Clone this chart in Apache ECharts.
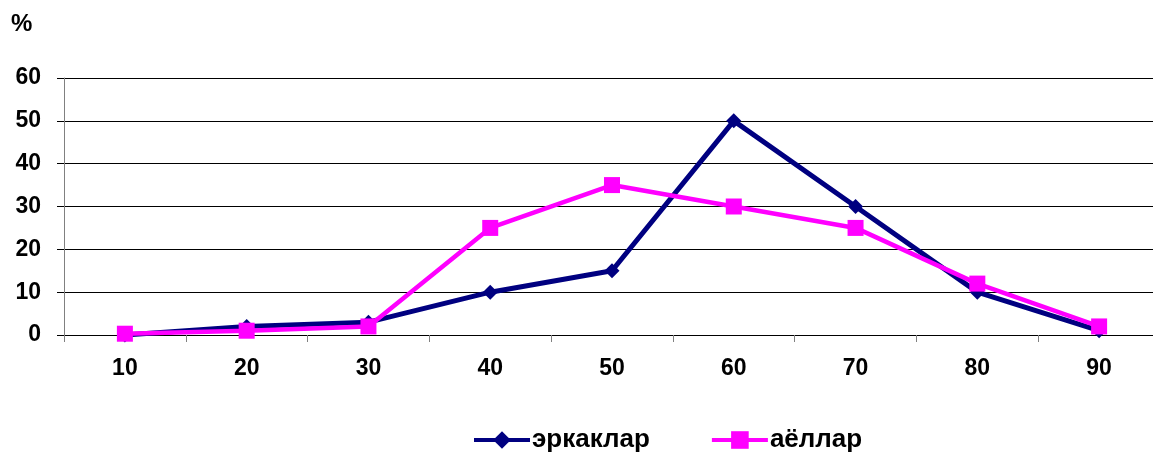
<!DOCTYPE html>
<html><head><meta charset="utf-8">
<script src="https://cdn.jsdelivr.net/npm/echarts@6/dist/echarts.min.js"></script>
<style>html,body{margin:0;padding:0;background:#fff;overflow:hidden;width:1153px;height:452px}#c{width:1160px;height:452px}</style>
</head><body><div id="c"></div>
<script>
const categories = ['10','20','30','40','50','60','70','80','90'];
const men = [0, 2, 3, 10, 15, 50, 30, 10, 1];
const women = [0.3, 1, 2, 25, 35, 30, 25, 12, 2];
const seriesNames = ['эркаклар', 'аёллар'];
const yTicks = {min: 0, max: 60, interval: 10};
const FONT = '"Liberation Sans", Arial, sans-serif';

const chart = echarts.init(document.getElementById('c'), null, {renderer: 'canvas'});
chart.setOption({
  animation: false,
  backgroundColor: '#fff',
  graphic: [{type: 'text', left: 11, top: 12, style: {text: '%', font: 'bold 24px ' + FONT, fill: '#000'}}],
  grid: {left: 64, right: 0, top: 78, bottom: 117},
  legend: {
    top: 425, left: 472, padding: 0, itemGap: 62, itemWidth: 56, itemHeight: 22, itemGap: 60,
    lineStyle: {width: 4},
    textStyle: {fontFamily: FONT, fontWeight: 'bold', fontSize: 26, lineHeight: 30, color: '#000', padding: [0, 0, 0, -3]},
    data: seriesNames
  },
  xAxis: {
    type: 'category', data: categories, boundaryGap: true,
    axisLine: {lineStyle: {color: '#000', width: 1}},
    axisTick: {show: true, length: 7, lineStyle: {color: '#808080'}},
    axisLabel: {margin: 22, fontFamily: FONT, fontWeight: 'bold', fontSize: 23, color: '#000'}
  },
  yAxis: {
    type: 'value', min: yTicks.min, max: yTicks.max, interval: yTicks.interval,
    axisLine: {show: true, lineStyle: {color: '#808080'}},
    axisTick: {show: true, length: 7, lineStyle: {color: '#000'}},
    splitLine: {lineStyle: {color: '#000', width: 1}},
    axisLabel: {margin: 23, fontFamily: FONT, fontWeight: 'bold', fontSize: 23, color: '#000'}
  },
  series: [
    {name: seriesNames[0], type: 'line', data: men, symbol: 'diamond', symbolSize: 15,
     lineStyle: {color: '#000080', width: 5}, itemStyle: {color: '#000080'}, z: 2},
    {name: seriesNames[1], type: 'line', data: women, symbol: 'rect', symbolSize: 16,
     lineStyle: {color: '#FF00FF', width: 4.5}, itemStyle: {color: '#FF00FF'}, z: 3}
  ]
});
</script></body></html>
